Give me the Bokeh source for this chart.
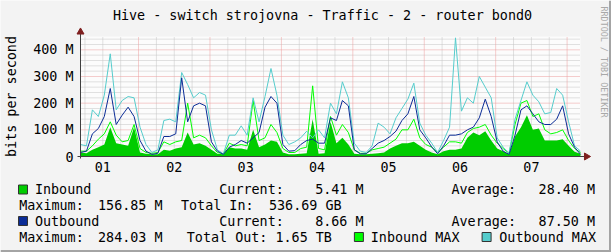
import numpy as np
from bokeh.plotting import figure
from bokeh.models import Range1d
from bokeh.core.properties import value
from bokeh.embed import file_html
from bokeh.resources import INLINE

# ---------------- data (Mbit/s), one sample every 2 hours from day 01 04:30 ----------------
HOURS = list(range(0, 169, 2))

INBOUND = [15, 12, 25, 35, 45, 110, 50, 45, 40, 110, 15, 10, 8, 8, 25, 22, 30,
           35, 90, 45, 50, 40, 25, 10, 8, 35, 30, 30, 25, 100, 35, 45, 60, 55, 15,
           8, 8, 10, 12, 140, 10, 12, 130, 50, 70, 45, 10, 8, 8, 10, 12, 15,
           30, 40, 50, 50, 55, 40, 25, 15, 8, 20, 25, 25, 30, 70, 90, 80, 95, 60,
           30, 20, 8, 75, 110, 155, 100, 105, 60, 60, 60, 65, 40, 18, 10]

OUTBOUND = [15, 20, 85, 105, 150, 255, 120, 155, 185, 150, 60, 20, 8, 12, 75, 75, 85,
            295, 130, 190, 200, 190, 55, 20, 8, 35, 45, 60, 50, 70, 90, 185, 225, 200, 45,
            20, 22, 45, 60, 65, 50, 50, 145, 135, 210, 190, 25, 10, 10, 30, 50, 60,
            75, 95, 135, 160, 225, 100, 70, 36, 10, 40, 80, 80, 85, 100, 110, 145, 215, 150,
            55, 20, 8, 80, 175, 190, 160, 130, 120, 120, 140, 190, 85, 35, 8]

INBOUND_MAX = [20, 20, 40, 65, 85, 130, 80, 55, 60, 120, 30, 15, 12, 15, 55, 45, 55,
               60, 200, 70, 80, 70, 40, 15, 10, 50, 40, 45, 40, 210, 60, 70, 120, 90, 30,
               15, 15, 30, 35, 265, 30, 25, 150, 80, 120, 90, 25, 12, 12, 25, 30, 35,
               50, 65, 100, 100, 140, 70, 45, 35, 15, 35, 55, 55, 50, 90, 105, 110, 120, 80,
               50, 30, 12, 120, 200, 210, 150, 160, 100, 85, 90, 100, 60, 30, 15]

OUTBOUND_MAX = [45, 40, 175, 150, 230, 385, 175, 210, 225, 220, 110, 45, 15, 25, 135, 140, 130,
                315, 270, 220, 240, 230, 100, 25, 10, 80, 80, 115, 80, 220, 130, 225, 330, 230, 80,
                45, 55, 70, 95, 70, 100, 70, 200, 160, 280, 220, 50, 20, 15, 40, 125, 110,
                85, 145, 180, 215, 275, 125, 80, 50, 15, 60, 110, 445, 170, 220, 200, 300, 260, 220,
                70, 35, 12, 140, 210, 280, 230, 205, 160, 165, 255, 230, 130, 40, 20]

DAY_LABELS = ["01", "02", "03", "04", "05", "06", "07"]
DAY_NOON_HOURS = [7.5, 31.5, 55.5, 79.5, 103.5, 127.5, 151.5]
MIDNIGHT_HOURS = [19.5, 43.5, 67.5, 91.5, 115.5, 139.5, 163.5]
Y_TICKS = [0, 100, 200, 300, 400]
Y_TICK_LABELS = ["0", "100 M", "200 M", "300 M", "400 M"]

TITLE = "Hive - switch strojovna - Traffic - 2 - router bond0"
Y_TITLE = "bits per second"
WATERMARK = "RRDTOOL / TOBI OETIKER"

SERIES_NAMES = ["Inbound", "Outbound", "Inbound MAX", "Outbound MAX"]
IN_STATS = ["5.41 M", "28.40 M", "156.85 M", "536.69 GB"]      # current, average, maximum, total
OUT_STATS = ["8.66 M", "87.50 M", "284.03 M", "1.65 TB"]

# ---------------- style ----------------
BACK = "#F3F3F3"
CANVAS = "#FCFCFC"
C_IN = "#00CC00"
C_OUT = "#0B2C96"
C_IN_MAX = "#00FF00"
C_OUT_MAX = "#55CCCC"
GRID = "#C4C4C4"
MGRID = "#EC9C9C"
ARROW = "#7F1F1F"
AXIS = "#404040"
SHADE = "#A4A4A4"
FONT = value("DejaVu Sans Mono")
FS = "13.4px"

W, H = 611, 252
PX_PER_H = 500 / 168.0      # graph area: 500 px for 7 days
PX_PER_M = 120 / 450.0      # graph area: 120 px for 450 M
T_END = 168
V_TOP = 450


def hx(px):
    """pixel column -> hours"""
    return (px - 80) / PX_PER_H


def my(py):
    """pixel row -> Mbit/s"""
    return (156 - py) / PX_PER_M


p = figure(width=W, height=H,
           x_range=Range1d(hx(0), hx(W)), y_range=Range1d(my(H), my(0)),
           output_backend="svg", toolbar_location=None, min_border=0,
           x_axis_location=None, y_axis_location=None)
p.background_fill_color = BACK
p.border_fill_color = BACK
p.outline_line_color = None
p.xgrid.visible = False
p.ygrid.visible = False

# canvas of the graph
p.quad(left=[0], right=[T_END], bottom=[0], top=[V_TOP], fill_color=CANVAS, line_color=None)

# grid
minor_v = [h for h in np.arange(1.5, T_END, 6) if h not in MIDNIGHT_HOURS]
p.segment(x0=minor_v, y0=0, x1=minor_v, y1=V_TOP, line_color=GRID, line_dash="1 1", line_width=1)
minor_h = [v for v in range(20, V_TOP, 20) if v % 100 != 0]
p.segment(x0=0, y0=minor_h, x1=T_END, y1=minor_h, line_color=GRID, line_dash="1 1", line_width=1)
p.segment(x0=MIDNIGHT_HOURS, y0=0, x1=MIDNIGHT_HOURS, y1=V_TOP, line_color=MGRID,
          line_dash="1 1", line_width=1)
major_h = Y_TICKS[1:]
p.segment(x0=0, y0=major_h, x1=T_END, y1=major_h, line_color=MGRID, line_dash="1 1", line_width=1)

# data
p.varea(x=HOURS, y1=0, y2=INBOUND, fill_color=C_IN)
p.line(HOURS, INBOUND_MAX, line_color=C_IN_MAX, line_width=1)
p.line(HOURS, OUTBOUND_MAX, line_color=C_OUT_MAX, line_width=1)
p.line(HOURS, OUTBOUND, line_color=C_OUT, line_width=1)

# axis lines + arrows
p.segment(x0=[0], y0=[my(158)], x1=[0], y1=[my(33)], line_color=AXIS, line_width=1)
p.segment(x0=[hx(77)], y0=[0], x1=[hx(584)], y1=[0], line_color=AXIS, line_width=1)
p.scatter(x=[0], y=[my(31.5)], marker="triangle", size=7, fill_color=ARROW, line_color=ARROW)
p.scatter(x=[hx(586)], y=[0], marker="triangle", size=7, angle=-np.pi / 2,
          fill_color=ARROW, line_color=ARROW)

# tick labels (positions from the tick arrays, through the scales)
p.text(x=DAY_NOON_HOURS, y=my(166.5), text=DAY_LABELS, text_align="center",
       text_baseline="middle", text_font=FONT, text_font_size=FS, text_color="#000000")
p.text(x=hx(73), y=Y_TICKS, text=Y_TICK_LABELS, text_align="right",
       text_baseline="middle", text_font=FONT, text_font_size=FS, text_color="#000000")

# title, axis title, watermark
p.text(x=[hx(322)], y=[my(14.5)], text=[TITLE], text_align="center", text_baseline="middle",
       text_font=FONT, text_font_size=FS, text_color="#000000")
p.text(x=[hx(10.5)], y=[my(96)], text=[Y_TITLE], angle=np.pi / 2, text_align="center",
       text_baseline="middle", text_font=FONT, text_font_size=FS, text_color="#000000")
p.text(x=[hx(603.5)], y=[my(6)], text=[WATERMARK], angle=-np.pi / 2, text_align="left",
       text_baseline="middle", text_font=FONT, text_font_size="8.4px", text_color="#A8A8A8")

# ---------------- legend ----------------
R1, R2, R3, R4 = 189, 205, 220.5, 236.5
p.scatter(x=[hx(22.5), hx(22.5), hx(358.4), hx(486.1)], y=[my(R1), my(R3), my(R4), my(R4)],
          marker="square", size=9, fill_color=[C_IN, C_OUT, C_IN_MAX, C_OUT_MAX],
          line_color="#333333", line_width=1)

left = [(34.4, R1, SERIES_NAMES[0]), (218.8, R1, "Current:"), (451, R1, "Average:"),
        (18.75, R2, "Maximum:"), (180.5, R2, "Total In:"),
        (34.4, R3, SERIES_NAMES[1]), (218.8, R3, "Current:"), (451, R3, "Average:"),
        (18.75, R4, "Maximum:"), (186.3, R4, "Total Out: " + OUT_STATS[3]),
        (370.3, R4, SERIES_NAMES[2]), (498.8, R4, SERIES_NAMES[3])]
p.text(x=[hx(a) for a, b, c in left], y=[my(b) for a, b, c in left], text=[c for a, b, c in left],
       text_align="left", text_baseline="middle", text_font=FONT, text_font_size=FS,
       text_color="#000000")

right = [(363, R1, IN_STATS[0]), (594.5, R1, IN_STATS[1]), (162, R2, IN_STATS[2]),
         (341, R2, IN_STATS[3]), (363, R3, OUT_STATS[0]), (594.5, R3, OUT_STATS[1]),
         (162, R4, OUT_STATS[2])]
p.text(x=[hx(a) for a, b, c in right], y=[my(b) for a, b, c in right],
       text=[c for a, b, c in right], text_align="right", text_baseline="middle",
       text_font=FONT, text_font_size=FS, text_color="#000000")

# 3-D frame shade of the image (bottom and right edges)
p.segment(x0=[hx(0), hx(609.5)], y0=[my(250.5), my(0)], x1=[hx(W), hx(609.5)],
          y1=[my(250.5), my(H)], line_color=SHADE, line_width=2)

open("out.html", "w").write(file_html(p, INLINE))
